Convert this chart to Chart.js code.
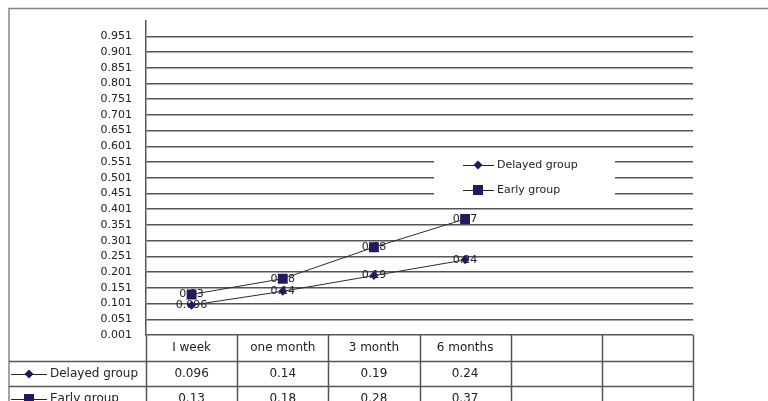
<!DOCTYPE html>
<html>
<head>
<meta charset="utf-8">
<script src="https://cdn.jsdelivr.net/npm/chart.js@4.4.0/dist/chart.umd.min.js"></script>
<style>
  html, body { margin: 0; padding: 0; background: #fff; }
  #wrap { width: 768px; height: 401px; position: relative; }
</style>
</head>
<body>
<div id="wrap"><canvas id="chart"></canvas></div>
<script>
const categories = ['I week', 'one month', '3 month', '6 months', '', ''];
const delayedGroup = [0.096, 0.14, 0.19, 0.24, null, null];
const earlyGroup = [0.13, 0.18, 0.28, 0.37, null, null];
const seriesNames = ['Delayed group', 'Early group'];
const yTickLabels = ['0.001', '0.051', '0.101', '0.151', '0.201', '0.251', '0.301', '0.351',
  '0.401', '0.451', '0.501', '0.551', '0.601', '0.651', '0.701', '0.751', '0.801', '0.851',
  '0.901', '0.951'];

const FONT = "'DejaVu Sans', sans-serif";
const TEXT = '#222';
const RULE = '#555';
const MARK = '#1f1b5e';

function drawMarker(ctx, style, x, y, r) {
    ctx.fillStyle = MARK;
    ctx.beginPath();
    if (style === 'rectRot') {
        ctx.moveTo(x - r, y); ctx.lineTo(x, y - r); ctx.lineTo(x + r, y); ctx.lineTo(x, y + r);
    } else {
        ctx.rect(x - r, y - r, r * 2, r * 2);
    }
    ctx.closePath();
    ctx.fill();
}

// labels, frame, legend and data table below the plot
const extras = {
    id: 'extras',
    beforeDraw(chart) {
        const ctx = chart.ctx;
        ctx.save();
        ctx.strokeStyle = '#858585';
        ctx.lineWidth = 1.5;
        ctx.beginPath();
        ctx.moveTo(9, 401); ctx.lineTo(9, 8.5); ctx.lineTo(768, 8.5);
        ctx.stroke();
        ctx.restore();
    },
    beforeDatasetsDraw(chart) {
        const ctx = chart.ctx;
        ctx.save();
        ctx.font = '11px ' + FONT;
        ctx.fillStyle = '#222';
        ctx.textAlign = 'center';
        ctx.textBaseline = 'middle';
        chart.data.datasets.forEach((ds, di) => {
            chart.getDatasetMeta(di).data.forEach((pt, i) => {
                if (ds.data[i] == null) return;
                ctx.fillText(String(ds.data[i]), pt.x, pt.y);
            });
        });
        ctx.restore();
    },
    afterDatasetsDraw(chart) {
        const ctx = chart.ctx;
        const area = chart.chartArea;
        const x = chart.scales.x;
        ctx.save();

        // legend box inside plot
        ctx.fillStyle = '#fff';
        ctx.fillRect(434, 152, 181, 47);
        ctx.font = '11px ' + FONT;
        ctx.textBaseline = 'middle';
        ctx.textAlign = 'left';
        chart.data.datasets.forEach((ds, di) => {
            const y = 165 + di * 25;
            ctx.strokeStyle = '#222';
            ctx.lineWidth = 1;
            ctx.beginPath(); ctx.moveTo(463, y + 0.5); ctx.lineTo(494, y + 0.5); ctx.stroke();
            drawMarker(ctx, ds.pointStyle, 478, y, ds.pointStyle === 'rect' ? 5 : 4.5);
            ctx.fillStyle = TEXT;
            ctx.fillText(ds.label, 497, y);
        });

        // data table
        const step = x.getPixelForValue(1) - x.getPixelForValue(0);
        const rows = [361.5, 386.5];
        ctx.strokeStyle = RULE;
        ctx.lineWidth = 1.5;
        ctx.beginPath();
        rows.forEach(r => { ctx.moveTo(9, r); ctx.lineTo(area.right, r); });
        for (let i = 0; i <= categories.length; i++) {
            const cx = Math.round(x.getPixelForValue(i) - step / 2) + 0.5;
            ctx.moveTo(cx, area.bottom); ctx.lineTo(cx, 401);
        }
        ctx.stroke();

        chart.data.datasets.forEach((ds, di) => {
            const y = 374 + di * 25;
            ctx.strokeStyle = '#222';
            ctx.lineWidth = 1;
            ctx.beginPath(); ctx.moveTo(11, y + 0.5); ctx.lineTo(47, y + 0.5); ctx.stroke();
            drawMarker(ctx, ds.pointStyle, 29, y, ds.pointStyle === 'rect' ? 5 : 4.5);
            ctx.fillStyle = TEXT;
            ctx.font = '12px ' + FONT;
            ctx.textAlign = 'left';
            ctx.fillText(ds.label, 50, y);
            ctx.textAlign = 'center';
            ds.data.forEach((v, i) => {
                if (v == null) return;
                ctx.fillText(String(v), x.getPixelForValue(i), y);
            });
        });
        ctx.restore();
    }
};

new Chart(document.getElementById('chart'), {
    type: 'line',
    data: {
        labels: categories,
        datasets: [
            {
                label: seriesNames[0],
                data: delayedGroup,
                borderColor: '#2a2a3a',
                borderWidth: 1,
                pointStyle: 'rectRot',
                pointRadius: 4.5,
                pointBackgroundColor: MARK,
                pointBorderColor: MARK,
                pointBorderWidth: 0
            },
            {
                label: seriesNames[1],
                data: earlyGroup,
                borderColor: '#2a2a3a',
                borderWidth: 1,
                pointStyle: 'rect',
                pointRadius: 7,
                pointBackgroundColor: MARK,
                pointBorderColor: MARK,
                pointBorderWidth: 0
            }
        ]
    },
    options: {
        responsive: true,
        maintainAspectRatio: false,
        animation: false,
        layout: { padding: { top: 17, right: 75, left: 0, bottom: 0 } },
        plugins: {
            legend: { display: false },
            tooltip: { enabled: false }
        },
        scales: {
            x: {
                offset: true,
                grid: { display: false, drawTicks: false },
                border: { display: false },
                ticks: { color: TEXT, font: { family: FONT, size: 12 }, padding: 6, maxRotation: 0 },
                afterFit: (s) => { s.height = 66; }
            },
            y: {
                min: 0.001,
                max: 1.001,
                afterBuildTicks: (s) => {
                    s.ticks = yTickLabels.map(t => ({ value: parseFloat(t) }));
                },
                afterFit: (s) => { s.width = 146; },
                grid: { color: RULE, lineWidth: 1.5, drawTicks: false },
                border: { display: true, color: RULE, width: 1.5 },
                ticks: {
                    color: TEXT,
                    padding: 14,
                    font: { family: FONT, size: 11 },
                    callback: (v) => yTickLabels.find(t => parseFloat(t) === v) || ''
                }
            }
        }
    },
    plugins: [extras]
});
</script>
</body>
</html>
